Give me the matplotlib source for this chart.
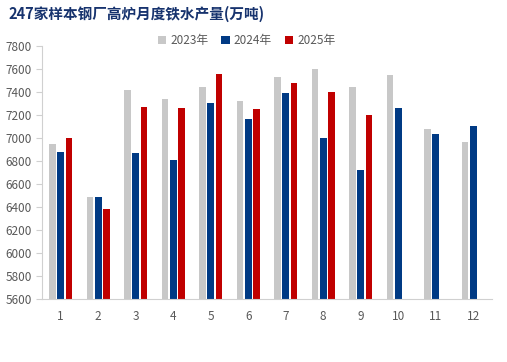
import numpy as np
import matplotlib.pyplot as plt

plt.rcParams['font.family'] = ['Noto Sans CJK SC', 'DejaVu Sans']

months = ['1', '2', '3', '4', '5', '6', '7', '8', '9', '10', '11', '12']
y2023 = [6948, 6487, 7417, 7339, 7443, 7321, 7530, 7600, 7443, 7547, 7078, 6965]
y2024 = [6878, 6487, 6869, 6808, 7304, 7165, 7391, 7000, 6722, 7261, 7034, 7104]
y2025 = [7000, 6382, 7269, 7261, 7556, 7252, 7478, 7400, 7200]

fig = plt.figure(figsize=(5.07, 3.62), dpi=100)
ax = fig.add_axes([42 / 507, 1 - 299 / 362, 450 / 507, 253 / 362])

x = np.arange(len(months))
w = 0.175
off = 0.215
ax.bar(x - off, y2023, w, color='#C8C8C8', label='2023年', zorder=2)
ax.bar(x, y2024, w, color='#003A84', label='2024年', zorder=2)
ax.bar(x[:len(y2025)] + off, y2025, w, color='#C00000', label='2025年', zorder=2)

ax.set_xlim(-0.5, len(months) - 0.5)
ax.set_ylim(5600, 7800)
ax.set_yticks(np.arange(5600, 7801, 200))
ax.set_xticks(x)
ax.set_xticklabels(months)

for s in ['top', 'right']:
    ax.spines[s].set_visible(False)
for s in ['left', 'bottom']:
    ax.spines[s].set_color('#D0D0D0')
ax.tick_params(axis='y', colors='#D0D0D0', labelcolor='#595959', labelsize=8.5, length=4)
ax.tick_params(axis='x', length=0, labelcolor='#595959', labelsize=8.5, pad=8)

ax.legend(loc='center', bbox_to_anchor=(0.455, 1.02), ncol=3, frameon=False,
          fontsize=8.5, handlelength=0.7, handleheight=0.7, columnspacing=1.1,
          handletextpad=0.35, labelcolor='#595959')

fig.text(8 / 507, 1 - 14 / 362, '247家样本钢厂高炉月度铁水产量(万吨)', fontsize=10.5,
         fontweight='bold', color='#17336E', va='center', ha='left')

fig.savefig('out.png', dpi=100)
